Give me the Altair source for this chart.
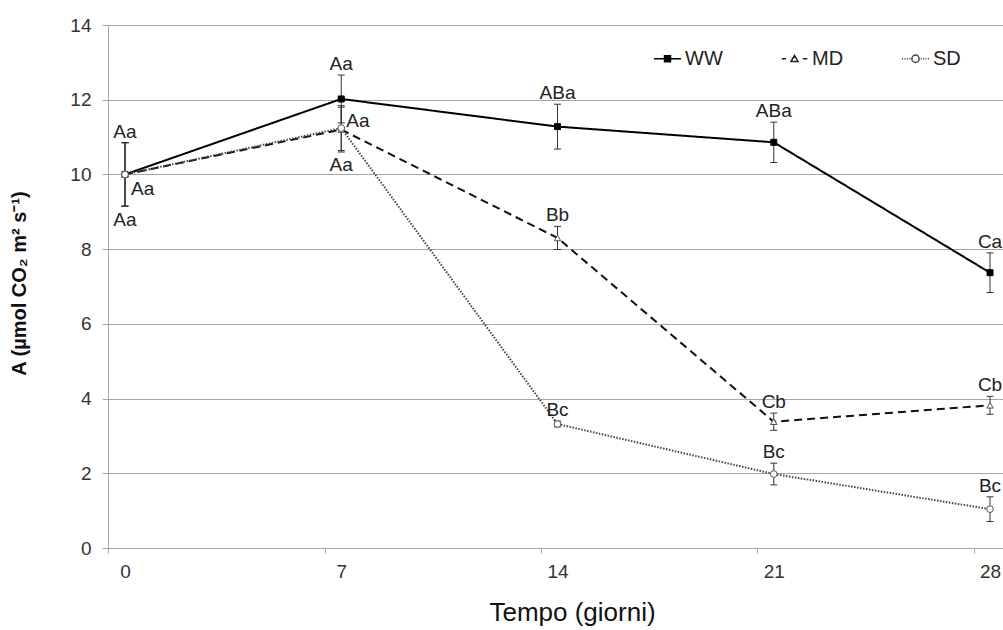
import altair as alt
import pandas as pd

# ---- data ----
days = [0, 7, 14, 21, 28]
series = ["WW", "MD", "SD"]
ww = [10.0, 12.02, 11.28, 10.86, 7.37]
md = [10.0, 11.20, 8.30, 3.38, 3.82]
sd = [10.0, 11.24, 3.32, 1.98, 1.04]
ww_err = [0.85, 0.64, 0.60, 0.54, 0.53]
md_err = [0.85, 0.60, 0.31, 0.23, 0.24]
sd_err = [0.85, 0.60, 0.08, 0.29, 0.33]
ww_lab = ["Aa", "Aa", "ABa", "ABa", "Ca"]
md_lab = ["Aa", "Aa", "Bb", "Cb", "Cb"]
sd_lab = ["Aa", "Aa", "Bc", "Bc", "Bc"]
ww_pos = ["above", "above", "above", "above", "above"]
md_pos = ["right-below", "right-above", "above", "above", "above"]
sd_pos = ["below", "below", "above", "above", "above"]
y_ticks = [0, 2, 4, 6, 8, 10, 12, 14]
x_ticks = [0, 7, 14, 21, 28]

rows = []
for name, vals, errs, labs, poss in zip(series, [ww, md, sd], [ww_err, md_err, sd_err],
                                        [ww_lab, md_lab, sd_lab], [ww_pos, md_pos, sd_pos]):
    for d, v, e, l, p in zip(days, vals, errs, labs, poss):
        rows.append(dict(serie=name, giorno=d, A=v, lo=v - e, hi=v + e, lab=l, pos=p))
df = pd.DataFrame(rows)

FONT = "Liberation Sans"
GRID = "#a6a6a6"

x_scale = alt.Scale(domain=[-0.55, 28.42], nice=False, zero=False)
y_scale = alt.Scale(domain=[0, 14], nice=False, zero=True)

x_axis = alt.Axis(values=x_ticks, title="Tempo (giorni)", grid=False,
                  tickOffset=-16.5, labelOffset=16.5, tickSize=5, labelPadding=9,
                  labelFontSize=19, labelFont=FONT, labelColor="#333",
                  domainColor=GRID, tickColor=GRID,
                  titleFont=FONT, titleFontSize=26, titleFontWeight="normal", titleColor="#111",
                  titleX=464, titleY=64, titleAlign="center", titleBaseline="middle")
y_axis = alt.Axis(values=y_ticks, title="A (µmol CO₂ m² s⁻¹)", grid=True, gridColor=GRID,
                  tickSize=6, labelPadding=11, labelFontSize=19, labelFont=FONT, labelColor="#333",
                  domainColor=GRID, tickColor=GRID,
                  titleFont=FONT, titleFontSize=20, titleFontWeight="bold", titleColor="#111",
                  titleAngle=270, titleX=-89, titleY=258, titleAlign="center", titleBaseline="middle")


def X():
    return alt.X("giorno:Q", scale=x_scale, axis=x_axis)


def Y(col):
    return alt.Y(f"{col}:Q", scale=y_scale, axis=y_axis)


base = alt.Chart(df)

lines = base.mark_line().encode(
    x=X(), y=Y("A"),
    color=alt.Color("serie:N", scale=alt.Scale(domain=series, range=["#000000", "#111111", "#444444"]), legend=None),
    strokeDash=alt.StrokeDash("serie:N", scale=alt.Scale(domain=series, range=[[1, 0], [8, 5], [1.5, 1.5]]), legend=None),
    strokeWidth=alt.StrokeWidth("serie:N", scale=alt.Scale(domain=series, range=[2, 2, 1.2]), legend=None),
)

err_rule = base.mark_rule(color="#333", strokeWidth=1).encode(x=X(), y=Y("lo"), y2="hi:Q")
err_lo = base.mark_tick(orient="horizontal", color="#333", size=7, thickness=1, opacity=1).encode(x=X(), y=Y("lo"))
err_hi = base.mark_tick(orient="horizontal", color="#333", size=7, thickness=1, opacity=1).encode(x=X(), y=Y("hi"))

pts = base.mark_point(filled=True, opacity=1, strokeWidth=1).encode(
    x=X(), y=Y("A"),
    shape=alt.Shape("serie:N", scale=alt.Scale(domain=series, range=["square", "triangle-up", "circle"]), legend=None),
    fill=alt.Fill("serie:N", scale=alt.Scale(domain=series, range=["#000000", "#ffffff", "#ffffff"]), legend=None),
    stroke=alt.Stroke("serie:N", scale=alt.Scale(domain=series, range=["#000000", "#555555", "#555555"]), legend=None),
    size=alt.Size("serie:N", scale=alt.Scale(domain=series, range=[36, 45, 55]), legend=None),
)


def text_layer(pos, ycol, **kw):
    return base.transform_filter(alt.datum.pos == pos).mark_text(
        font=FONT, fontSize=19, color="#222", baseline="alphabetic", **kw
    ).encode(x=X(), y=Y(ycol), text="lab:N")


t_above = text_layer("above", "hi", dy=-5, align="center")
t_below = text_layer("below", "lo", dy=20, align="center")
t_rb = text_layer("right-below", "A", dx=6, dy=21, align="left")
t_ra = text_layer("right-above", "A", dx=5, dy=-3, align="left")

# legend symbols: line + marker drawn as custom symbol paths
sym_ww = "M-1,0H1M-0.22,-0.22H0.22V0.22H-0.22Z"
sym_md = "M-0.95,0H-0.62M0.62,0H0.95M-0.26,0.2L0,-0.24L0.26,0.2Z"
sym_sd = ("M-1,0H-0.92M-0.82,0H-0.74M-0.64,0H-0.56M-0.46,0H-0.38"
          "M0.38,0H0.46M0.56,0H0.64M0.74,0H0.82M0.92,0H1"
          "M0.27,0A0.27,0.27 0 1,1 -0.27,0A0.27,0.27 0 1,1 0.27,0Z")

leg_def = alt.Legend(title=None, orient="none", legendX=545, legendY=19, direction="horizontal",
                     columns=3, columnPadding=55, symbolSize=729, symbolStrokeWidth=1.5,
                     labelFontSize=20, labelFont=FONT, labelColor="#222", labelOffset=3, padding=0,
                     symbolOpacity=1)

leg = base.transform_filter("false").mark_point(filled=True, opacity=1).encode(
    x=X(), y=Y("A"),
    shape=alt.Shape("serie:N", scale=alt.Scale(domain=series, range=[sym_ww, sym_md, sym_sd]), legend=leg_def),
    fill=alt.Fill("serie:N", scale=alt.Scale(domain=series, range=["#000000", "#ffffff", "#ffffff"]), legend=leg_def),
    stroke=alt.Stroke("serie:N", scale=alt.Scale(domain=series, range=["#000000", "#222222", "#444444"]), legend=leg_def),
)

main = alt.layer(lines, err_rule, err_lo, err_hi, pts, t_above, t_below, t_rb, t_ra)

chart = alt.layer(main, leg).resolve_scale(
    shape="independent", fill="independent", stroke="independent"
).properties(
    width=895, height=523,
    padding={"left": 108, "top": 25, "right": 0, "bottom": 82},
    autosize="none",
    background="white",
).configure_view(stroke=None)

chart.save("out.html", embed_options={"renderer": "svg", "actions": False})
